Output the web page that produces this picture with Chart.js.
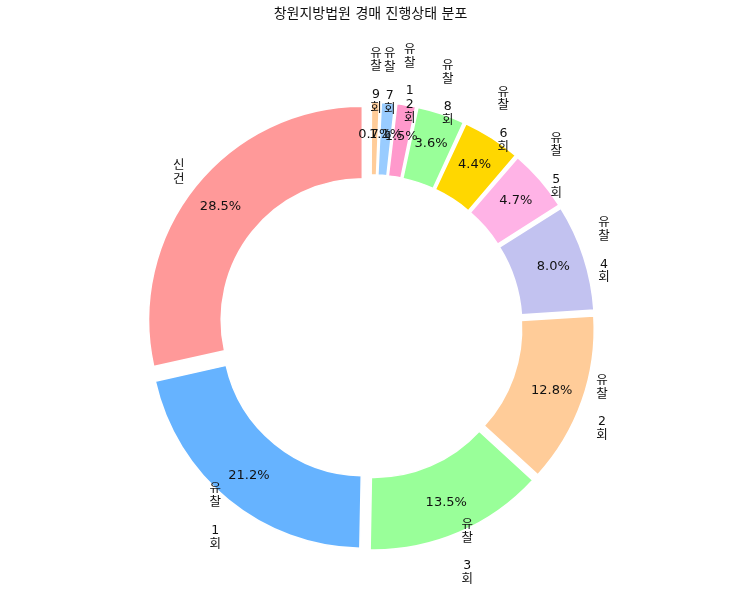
<!DOCTYPE html>
<html>
<head>
<meta charset="utf-8">
<script src="https://cdn.jsdelivr.net/npm/chart.js@4"></script>
<style>
  html, body { margin: 0; padding: 0; background: #fff; }
  #wrap { width: 743px; height: 593px; }
</style>
</head>
<body>
<div id="wrap"><canvas id="statusChart"></canvas></div>
<script>
// 창원지방법원 경매 진행상태 분포 (share, %)
const labels = ["신건", "유찰 1회", "유찰 3회", "유찰 2회", "유찰 4회", "유찰 5회",
                "유찰 6회", "유찰 8회", "유찰 12회", "유찰 7회", "유찰 9회"];
const shares = [28.5, 21.2, 13.5, 12.8, 8.0, 4.7, 4.4, 3.6, 1.5, 1.1, 0.7];
const colors = ["#ff9999", "#66b3ff", "#99ff99", "#ffcc99", "#c2c2f0", "#ffb3e6",
                "#ffd700", "#99ff99", "#ff99cc", "#99ccff", "#ffcc99"];

const EXPLODE = 10.7;   // px each wedge is pushed out
const FONT = '"DejaVu Sans", "Noto Sans CJK KR", sans-serif';

// matplotlib goes counter-clockwise from the top, Chart.js clockwise -> reverse
const rLabels = labels.slice().reverse();
const rShares = shares.slice().reverse();
const rColors = colors.slice().reverse();
const total = shares.reduce((a, b) => a + b, 0);

// Chart.js moves an arc by offset/4 plus a radius bump of offset/4*fix,
// so solve for the offset that gives the same push for every wedge
function explodeOffset(ctx) {
    const circ = ctx.dataset.data[ctx.dataIndex] / total * 2 * Math.PI;
    const fix = 1 - Math.sin(Math.min(Math.PI, circ));
    return 4 * EXPLODE / (1 + fix);
}

const pieText = {
    id: 'pieText',
    afterDatasetsDraw(chart) {
        const ctx = chart.ctx;
        const meta = chart.getDatasetMeta(0);
        ctx.save();
        ctx.fillStyle = '#111';
        ctx.textAlign = 'center';
        ctx.textBaseline = 'middle';
        meta.data.forEach((arc, i) => {
            const p = arc.getProps(['x', 'y', 'startAngle', 'endAngle', 'outerRadius'], true);
            const mid = (p.startAngle + p.endAngle) / 2;
            const cx = p.x + EXPLODE * Math.cos(mid);
            const cy = p.y + EXPLODE * Math.sin(mid);
            // category label, one character per line
            const lines = Array.from(rLabels[i]);
            const lh = 13.8;
            const lx = cx + 1.1 * p.outerRadius * Math.cos(mid);
            const ly = cy + 1.1 * p.outerRadius * Math.sin(mid);
            ctx.font = '12.5px ' + FONT;
            lines.forEach((ch, k) => {
                ctx.fillText(ch, lx, ly + (k - (lines.length - 1) / 2) * lh);
            });
            // percentage
            const px = cx + 0.85 * p.outerRadius * Math.cos(mid);
            const py = cy + 0.85 * p.outerRadius * Math.sin(mid);
            ctx.font = '13px ' + FONT;
            ctx.fillText((rShares[i] / total * 100).toFixed(1) + '%', px, py);
        });
        ctx.restore();
    }
};

const ctx = document.getElementById('statusChart').getContext('2d');
new Chart(ctx, {
    type: 'doughnut',
    data: {
        labels: rLabels,
        datasets: [{
            data: rShares,
            backgroundColor: rColors,
            borderColor: '#ffffff',
            borderWidth: 1.5,
            offset: explodeOffset,
            hoverOffset: 0
        }]
    },
    options: {
        responsive: true,
        maintainAspectRatio: false,
        animation: false,
        events: [],
        radius: 213.5,
        cutout: '66%',
        layout: { padding: { left: 0, right: 2, top: 0, bottom: 0 } },
        plugins: {
            legend: { display: false },
            tooltip: { enabled: false },
            title: {
                display: true,
                text: '창원지방법원 경매 진행상태 분포',
                color: '#111',
                font: { family: FONT, size: 14, weight: 'normal' },
                padding: { top: 6, bottom: 37.2 }
            }
        }
    },
    plugins: [pieText]
});
</script>
</body>
</html>
